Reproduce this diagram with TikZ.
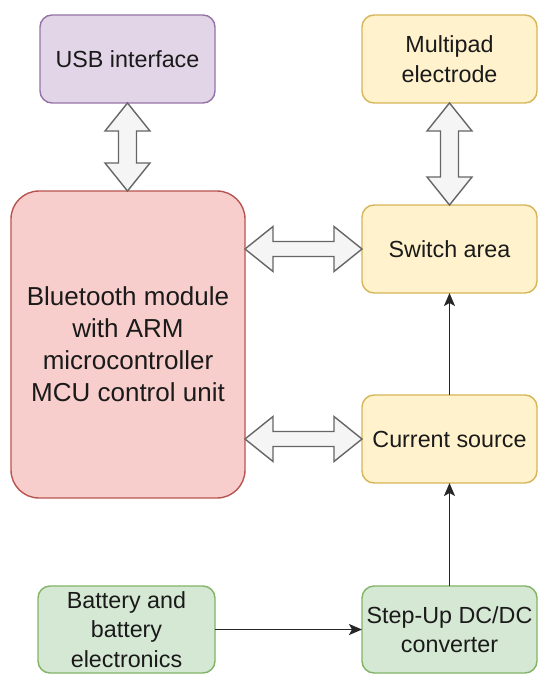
\documentclass[tikz,border=0pt]{standalone}
\usepackage{fontspec}
\setmainfont{Liberation Sans}
\usetikzlibrary{calc,arrows.meta}
\definecolor{purpF}{HTML}{E1D5E7}\definecolor{purpS}{HTML}{9673A6}
\definecolor{yelF}{HTML}{FFF2CC}\definecolor{yelS}{HTML}{D6B656}
\definecolor{redF}{HTML}{F8CECC}\definecolor{redS}{HTML}{B85450}
\definecolor{grnF}{HTML}{D5E8D4}\definecolor{grnS}{HTML}{82B366}
\definecolor{arrF}{HTML}{F5F5F5}\definecolor{arrS}{HTML}{666666}
\definecolor{txt}{HTML}{1A1A1A}
\newcommand{\vdblarrow}[2]{%
  \draw[blockarrow] (#1) -- ($(#1)+(22.5,28)$) -- ($(#1)+(9,28)$) -- ($(#2)+(9,-28)$) -- ($(#2)+(22.5,-28)$) -- (#2)
    -- ($(#2)+(-22.5,-28)$) -- ($(#2)+(-9,-28)$) -- ($(#1)+(-9,28)$) -- ($(#1)+(-22.5,28)$) -- cycle;}
\newcommand{\hdblarrow}[2]{%
  \draw[blockarrow] (#1) -- ($(#1)+(28,-22.5)$) -- ($(#1)+(28,-7.5)$) -- ($(#2)+(-28,-7.5)$) -- ($(#2)+(-28,-22.5)$) -- (#2)
    -- ($(#2)+(-28,22.5)$) -- ($(#2)+(-28,7.5)$) -- ($(#1)+(28,7.5)$) -- ($(#1)+(28,22.5)$) -- cycle;}
\begin{document}
\begin{tikzpicture}[x=1pt,y=-1pt,
  box/.style={draw, line width=1.4pt, rounded corners=12pt, minimum width=175pt, minimum height=88pt,
    inner sep=0pt, outer sep=0pt, align=center, text=txt, font=\fontsize{23.3}{29.5}\selectfont},
  purp/.style={box, fill=purpF, draw=purpS},
  yel/.style={box, fill=yelF, draw=yelS},
  redb/.style={box, fill=redF, draw=redS, rounded corners=28pt, minimum width=234pt, minimum height=307pt,
    font=\fontsize{26}{32}\selectfont},
  grn/.style={box, fill=grnF, draw=grnS, minimum height=87pt},
  blockarrow/.style={fill=arrF, draw=arrS, line width=1.4pt, line join=miter},
  thin/.style={draw=black!85, line width=1.7pt, -{Stealth[length=13pt,width=11pt,inset=3pt]}}]
\useasboundingbox[fill=white] (0,0) rectangle (550,690);
\node[purp] (usb) at (127.5,59) {USB interface};
\node[yel] (multi) at (449.5,59) {Multipad\\electrode};
\node[redb] (bt) at (128,344.5) {Bluetooth module\\with ARM\\microcontroller\\MCU control unit};
\node[yel] (sw) at (449.5,249) {Switch area};
\node[yel] (cs) at (449.5,439) {Current source};
\node[grn, minimum width=177pt] (bat) at (126.5,629.5) {Battery and\\battery\\electronics};
\node[grn] (step) at (449.5,629.5) {Step-Up DC/DC\\converter};
\vdblarrow{usb.south}{usb.south |- bt.north}
\vdblarrow{multi.south}{sw.north}
\hdblarrow{bt.east |- sw.west}{sw.west}
\hdblarrow{bt.east |- cs.west}{cs.west}
\draw[thin] (cs.north) -- (sw.south);
\draw[thin] (step.north) -- (cs.south);
\draw[thin] (bat.east) -- (step.west);
\end{tikzpicture}
\end{document}
